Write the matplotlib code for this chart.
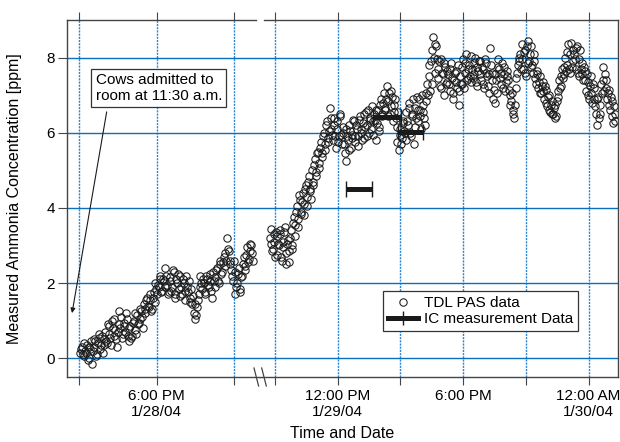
import numpy as np
import matplotlib
matplotlib.use("Agg")
import matplotlib.pyplot as plt
from matplotlib.lines import Line2D

plt.rcParams['font.family'] = ['Liberation Sans', 'DejaVu Sans']

# TDL PAS data, 1/28/04 afternoon (hours since 1/28/04 00:00), ppm
# two interleaved passes of readings
ppm_left = [
    0.15, 0.3, 0.05, 0.2, 0.35, 0.0, 0.25,
    -0.15, 0.3, 0.45, 0.1, 0.55, 0.25, 0.6, 0.35,
    0.7, 0.4, 0.85, 0.55, 1.0, 0.6, 0.75, 0.3,
    1.25, 0.8, 0.55, 0.95, 0.7, 1.05, 0.45,
    0.85, 0.6, 1.0, 0.75, 1.15, 0.95, 1.3, 1.1,
    1.45, 1.2, 1.6, 1.35, 1.55, 1.3, 1.75,
    2.0, 1.7, 1.9, 2.1, 1.8, 2.05, 2.4, 1.95,
    1.75, 2.15, 1.9, 2.3, 1.6, 2.0, 1.85,
    2.2, 1.7, 2.0, 1.55, 1.9, 2.05, 1.6, 1.45,
    1.2, 1.05, 1.35, 1.7, 2.2,
    1.85, 2.0, 1.75, 2.1, 1.9, 2.25, 1.6, 2.05,
    2.15, 2.4, 2.0, 2.6, 2.3, 2.7, 2.45,
    3.2, 2.85, 2.5, 2.2,
    2.6, 1.7, 2.0, 2.4, 1.85,
    2.2, 2.7, 2.45, 2.95, 2.65, 3.05, 2.8,
]
ppm_left_b = [
    0.25, 0.1, 0.4, 0.15, -0.05, 0.3, 0.45,
    0.2, 0.5, 0.05, 0.4, 0.65, 0.35, 0.15, 0.5,
    0.45, 0.9, 0.65, 0.35, 0.8, 1.05, 0.5, 0.7,
    0.9, 1.1, 0.65, 0.85, 1.2, 0.6, 0.8,
    0.55, 0.95, 1.2, 0.65, 0.9, 1.05, 1.25, 0.8,
    1.3, 1.55, 1.4, 1.7, 1.25, 1.6, 1.5,
    1.85, 1.95, 2.2, 1.75, 2.1, 1.9, 2.2, 1.7,
    2.05, 1.8, 2.35, 1.7, 2.1, 2.25, 1.65,
    1.9, 2.1, 1.8, 2.2, 1.75, 1.5, 1.85, 1.65,
    1.45, 1.15, 1.55, 1.9, 2.0,
    2.1, 1.7, 2.2, 1.95, 2.05, 1.8, 2.3, 1.9,
    2.35, 2.05, 2.5, 2.25, 2.55, 2.8, 2.6,
    2.9, 2.6, 2.35, 2.05,
    2.3, 1.9, 2.25, 1.75, 2.15,
    2.5, 2.35, 2.75, 2.55, 2.85, 3.0, 2.6,
]
t_left_start, t_left_end = 15.05, 21.7

# TDL PAS data, 1/29/04 morning to 1/30/04 early morning
ppm_right = [
    3.2, 3.45, 2.9, 3.1, 3.35, 2.75, 3.0,
    3.3, 2.6, 2.95, 3.5, 2.5, 3.15, 2.85,
    3.4, 3.0, 3.75, 3.55, 4.05, 3.7, 4.2,
    3.9, 4.4, 4.1, 4.6, 4.3, 4.85, 4.5,
    5.0, 4.7, 5.3, 4.95, 5.5, 5.2, 5.75,
    5.45, 6.0, 5.7, 6.3, 5.85, 6.65, 6.1,
    5.8, 6.4, 5.6, 6.1, 5.9, 6.5, 5.7,
    6.0, 5.45, 5.25, 5.8, 6.2, 5.6, 5.95,
    6.3, 5.75, 6.1, 5.9, 6.45, 6.0, 6.25,
    5.85, 6.55, 6.2, 6.0, 6.4, 6.7, 5.95,
    6.35, 5.8, 6.6, 6.15, 6.9, 6.45, 7.05,
    6.6, 7.25, 6.85, 6.5, 7.1, 6.3, 6.75,
    6.4, 5.75, 5.55, 6.1, 5.85, 6.3, 6.0,
    6.55, 6.2, 6.8, 5.9, 6.45, 5.7, 6.65,
    6.95, 6.3, 6.6, 6.1, 6.75, 6.4, 6.85,
    7.3, 7.8, 7.1, 8.2, 8.55, 7.6, 8.3,
    7.45, 7.9, 7.2, 7.6, 7.0, 7.75, 7.35,
    7.55, 7.1, 7.85, 6.9, 7.4, 7.65, 7.2,
    6.75, 7.5, 7.3, 7.95, 7.6, 8.1, 7.45,
    7.8, 7.35, 7.7, 7.55, 8.0, 7.25, 7.65,
    7.9, 7.4, 7.7, 7.2, 7.85, 7.5, 7.05,
    8.25, 7.6, 6.9, 6.8, 7.4, 7.95, 7.7,
    7.3, 7.85, 7.55, 7.1, 7.65, 7.4, 7.0,
    6.85, 6.6, 6.4, 7.2, 7.6, 7.9, 8.1,
    8.35, 7.7, 8.2, 7.5, 8.45, 7.9, 8.3,
    7.8, 8.1, 7.45, 7.65, 7.2, 7.5, 7.05,
    7.35, 6.9, 7.15, 6.7, 7.0, 6.55, 6.85,
    6.5, 6.75, 6.45, 7.1, 7.4, 7.25, 7.7,
    7.55, 8.0, 7.8, 8.35, 7.6, 8.4, 7.9,
    8.1, 7.7, 8.3, 7.5, 8.2, 7.85, 7.4,
    7.65, 7.1, 7.35, 6.9, 7.5, 6.8, 7.2,
    6.7, 6.2, 6.95, 6.5, 7.3, 7.75, 7.1,
    7.4, 6.9, 7.15, 6.6, 6.85, 6.25, 6.5,
]
ppm_right_b = [
    3.05, 2.85, 3.3, 2.7, 3.25, 3.05, 3.4,
    2.7, 3.1, 3.35, 2.8, 3.05, 2.55, 3.2,
    2.9, 3.6, 3.25, 3.9, 3.5, 4.35, 3.85,
    4.15, 3.8, 4.5, 4.05, 4.7, 4.45, 4.25,
    4.6, 5.15, 4.85, 5.45, 5.05, 5.6, 5.35,
    5.9, 5.55, 6.2, 5.75, 6.05, 6.4, 5.95,
    6.2, 5.9, 6.3, 5.75, 6.45, 5.95, 6.15,
    5.7, 6.1, 5.9, 5.55, 6.05, 5.85, 6.35,
    5.9, 6.2, 5.65, 6.35, 6.1, 5.8, 6.5,
    6.15, 5.9, 6.6, 6.35, 6.1, 6.3, 6.5,
    6.6, 6.25, 6.05, 6.75, 6.5, 6.8, 6.65,
    6.9, 6.45, 7.05, 6.7, 6.95, 6.55, 6.9,
    6.15, 6.55, 5.95, 5.7, 6.25, 6.05, 5.8,
    6.3, 6.65, 6.0, 6.5, 6.9, 6.15, 6.4,
    6.6, 6.9, 6.45, 7.0, 6.55, 6.2, 7.05,
    7.0, 7.5, 7.9, 7.3, 8.0, 8.35, 7.95,
    7.7, 7.25, 7.95, 7.55, 7.85, 7.3, 7.65,
    7.3, 7.7, 7.45, 7.05, 7.6, 7.35, 7.8,
    7.1, 7.3, 7.75, 7.2, 7.85, 7.4, 7.7,
    7.5, 8.05, 7.45, 7.85, 7.35, 7.75, 7.9,
    7.55, 7.75, 7.3, 7.95, 7.6, 7.25, 7.55,
    7.8, 7.4, 7.15, 7.55, 7.05, 7.75, 7.45,
    7.6, 7.2, 7.75, 7.35, 7.5, 7.15, 6.75,
    7.05, 6.5, 6.75, 7.45, 7.8, 8.0, 7.7,
    7.95, 8.15, 7.6, 8.3, 7.85, 8.1, 7.75,
    7.6, 7.9, 7.3, 7.55, 7.35, 7.05, 7.25,
    7.1, 7.25, 6.8, 6.95, 6.6, 6.75, 6.5,
    6.65, 6.4, 6.85, 6.95, 7.2, 7.5, 7.45,
    7.75, 7.65, 8.15, 7.7, 8.1, 7.75, 8.2,
    7.95, 8.25, 7.6, 7.95, 7.7, 7.55, 7.75,
    7.4, 7.55, 7.0, 7.25, 7.05, 7.3, 6.9,
    6.5, 6.9, 6.4, 6.75, 7.05, 7.4, 7.55,
    7.2, 7.05, 6.75, 6.95, 6.45, 6.7, 6.3,
]
t_right_start, t_right_end = 32.75, 49.25

# IC measurements: centre time, half sampling period, ppm
ic_time = [37.02, 38.36, 39.47]
ic_halfwidth = [0.62, 0.67, 0.61]
ic_ppm = [4.5, 6.43, 6.02]

left_ticks = [15, 18, 21]
left_labels = ['', '6:00 PM\n1/28/04', '']
right_ticks = [33, 36, 39, 42, 45, 48]
right_labels = ['', '12:00 PM\n1/29/04', '', '6:00 PM', '', '12:00 AM\n1/30/04']

t_left = np.linspace(t_left_start, t_left_end, len(ppm_left))
t_left_b = t_left + (t_left[1] - t_left[0]) / 2
t_right = np.linspace(t_right_start, t_right_end, len(ppm_right))
t_right_b = t_right + (t_right[1] - t_right[0]) / 2

fig = plt.figure(figsize=(6.2, 4.42), dpi=100)
W, H = 620.0, 442.0
ax_l = fig.add_axes([67 / W, 1 - 377 / H, (260 - 67) / W, 357 / H])
ax_r = fig.add_axes([260 / W, 1 - 377 / H, (618 - 260) / W, 357 / H])

hgrid = '#0b6fc0'
vgrid = '#2a86d4'
spine_c = '#444444'
for ax in (ax_l, ax_r):
    ax.set_ylim(-0.5, 9.0)
    ax.set_yticks([0, 2, 4, 6, 8])
    ax.set_axisbelow(True)
    ax.grid(axis='y', color=hgrid, lw=1.0, ls='-')
    ax.grid(axis='x', color=vgrid, lw=1.0, ls=(0, (1.5, 0.8)))
    ax.tick_params(axis='x', direction='out', length=5.5, width=0.8, color=spine_c,
                   top=True, labelsize=11, pad=3)
    ax.tick_params(axis='y', direction='out', length=6.5, width=0.8, color=spine_c,
                   labelsize=11, pad=2)
    for s in ax.spines.values():
        s.set_color(spine_c)
        s.set_linewidth(1.0)

ax_l.set_xlim(14.535, 22.007)
ax_l.set_xticks(left_ticks)
ax_l.set_xticklabels(left_labels)
ax_l.spines['right'].set_visible(False)
ax_l.spines['top'].set_bounds(14.535, 21.85)

ax_r.set_xlim(32.28, 49.41)
ax_r.set_xticks(right_ticks)
ax_r.set_xticklabels(right_labels)
ax_r.spines['left'].set_visible(False)
ax_r.spines['top'].set_bounds(32.47, 49.41)
ax_r.tick_params(axis='y', left=False, labelleft=False)

mk = dict(ls='none', marker='o', ms=5.3, mfc='none', mec='#1a1a1a', mew=0.75)
ax_l.plot(t_left, ppm_left, **mk)
ax_l.plot(t_left_b, ppm_left_b, **mk)
ax_r.plot(t_right, ppm_right, **mk)
ax_r.plot(t_right_b, ppm_right_b, **mk)

ax_r.errorbar(ic_time, ic_ppm, xerr=ic_halfwidth, fmt='none', ecolor='#1a1a1a',
              elinewidth=3.6, capsize=5.5, capthick=1.0, zorder=3)

ax_l.set_ylabel('Measured Ammonia Concentration [ppm]', fontsize=11.5)
ax_l.yaxis.set_label_coords(-0.232, 0.5)
fig.text(342.5 / W, 1 - 434 / H, 'Time and Date', ha='center', va='center', fontsize=11.5)

ax_l.annotate('Cows admitted to\nroom at 11:30 a.m.', xy=(14.73, 1.2),
              xytext=(0.148, 0.852), textcoords='axes fraction',
              ha='left', va='top', fontsize=11,
              bbox=dict(boxstyle='square,pad=0.28', fc='white', ec='#333333', lw=0.9),
              arrowprops=dict(arrowstyle='-|>', color='#1a1a1a', lw=0.8,
                              mutation_scale=7, relpos=(0.1, 0), shrinkA=3, shrinkB=0))

handles = [Line2D([], [], ls='none', marker='o', ms=5.3, mfc='none', mec='#1a1a1a', mew=0.75),
           Line2D([], [], color='#1a1a1a', lw=3.6, marker='|', ms=10, mew=1.0)]
leg = ax_r.legend(handles, ['TDL PAS data', 'IC measurement Data'],
                  loc='lower left', bbox_to_anchor=(0.344, 0.129), borderaxespad=0,
                  fontsize=11, frameon=True, fancybox=False, framealpha=1,
                  edgecolor='#333333', handlelength=2.0, handletextpad=0.4,
                  labelspacing=0.15, borderpad=0.3)
leg.get_frame().set_linewidth(0.9)

# axis break marks on the bottom spine
for x0 in (254, 261.7):
    fig.add_artist(Line2D([x0 / W, (x0 + 4.6) / W], [1 - 368 / H, 1 - 386 / H],
                          color=spine_c, lw=0.9))

fig.savefig('out.png', dpi=100)
